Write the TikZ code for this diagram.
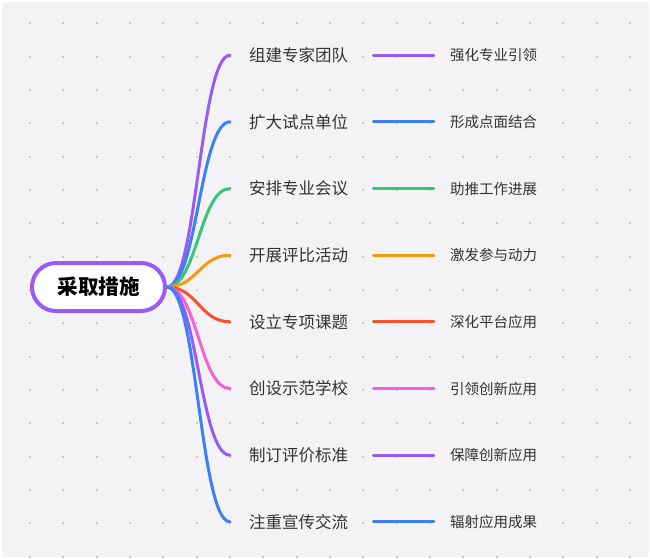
\documentclass[tikz,border=0pt]{standalone}
\usepackage{fontspec}
\newfontfamily\cjk{Noto Sans CJK SC}
\definecolor{CanvasGray}{RGB}{243, 243, 245}
\definecolor{GridDot}{RGB}{200, 200, 205}
\definecolor{TextGray}{RGB}{51, 51, 51}
\definecolor{Violet}{RGB}{152, 92, 245}
\definecolor{Azure}{RGB}{60, 128, 246}
\definecolor{Mint}{RGB}{56, 196, 124}
\definecolor{Amber}{RGB}{248, 152, 12}
\definecolor{Vermilion}{RGB}{246, 82, 46}
\definecolor{Orchid}{RGB}{244, 96, 214}
\usetikzlibrary{positioning}

\begin{document}
\begin{tikzpicture}[x=1pt, y=-1pt,
    every node/.style={font=\cjk, text=TextGray, inner sep=1pt},
    hub/.style={draw=Violet, line width=4pt, fill=white, rounded corners=24pt,
                minimum width=133pt, minimum height=48pt, text=black,
                font=\cjk\bfseries\fontsize{20.5}{24}\selectfont},
    topic/.style={anchor=west, fill=CanvasGray, font=\cjk\fontsize{16.5}{18}\selectfont},
    result/.style={anchor=west, fill=CanvasGray, font=\cjk\fontsize{14.5}{16}\selectfont},
    branch/.style={line width=3pt, line cap=round},
    link/.style={line width=2.8pt, line cap=round, shorten <=24pt, shorten >=15pt}
]
% canvas and dot grid
\useasboundingbox (0,0) rectangle (650,558);
\fill[CanvasGray] (0,0) rectangle (650,558);
\draw[white, line width=1.5pt] (0.75,0.75) rectangle (649.25,557.25);
\foreach \i in {0,...,18}
  \foreach \j in {0,...,16}
    \fill[GridDot] ({29+33.333*\i},{22.333+33.333*\j}) rectangle ++(2,2);

\node[hub] (root) at (98.5,287) {采取措施};

\node[topic] (t1) at (248,55.2) {组建专家团队};
\node[topic] (t2) at (248,121.8) {扩大试点单位};
\node[topic] (t3) at (248,188.5) {安排专业会议};
\node[topic] (t4) at (248,255.2) {开展评比活动};
\node[topic] (t5) at (248,321.8) {设立专项课题};
\node[topic] (t6) at (248,388.5) {创设示范学校};
\node[topic] (t7) at (248,455.2) {制订评价标准};
\node[topic] (t8) at (248,521.8) {注重宣传交流};

\node[result] (r1) at (449,55.2) {强化专业引领};
\node[result] (r2) at (449,121.8) {形成点面结合};
\node[result] (r3) at (449,188.5) {助推工作进展};
\node[result] (r4) at (449,255.2) {激发参与动力};
\node[result] (r5) at (449,321.8) {深化平台应用};
\node[result] (r6) at (449,388.5) {引领创新应用};
\node[result] (r7) at (449,455.2) {保障创新应用};
\node[result] (r8) at (449,521.8) {辐射应用成果};

\draw[branch, Violet] (root.east) .. controls +(30,0) and +(-30,0) .. ([xshift=-18pt]t1.west);
\draw[branch, Azure] (root.east) .. controls +(30,0) and +(-30,0) .. ([xshift=-18pt]t2.west);
\draw[branch, Mint] (root.east) .. controls +(30,0) and +(-30,0) .. ([xshift=-18pt]t3.west);
\draw[branch, Amber] (root.east) .. controls +(30,0) and +(-30,0) .. ([xshift=-18pt]t4.west);
\draw[branch, Vermilion] (root.east) .. controls +(30,0) and +(-30,0) .. ([xshift=-18pt]t5.west);
\draw[branch, Orchid] (root.east) .. controls +(30,0) and +(-30,0) .. ([xshift=-18pt]t6.west);
\draw[branch, Violet] (root.east) .. controls +(30,0) and +(-30,0) .. ([xshift=-18pt]t7.west);
\draw[branch, Azure] (root.east) .. controls +(30,0) and +(-30,0) .. ([xshift=-18pt]t8.west);

\draw[link, Violet] (t1) -- (r1);
\draw[link, Azure] (t2) -- (r2);
\draw[link, Mint] (t3) -- (r3);
\draw[link, Amber] (t4) -- (r4);
\draw[link, Vermilion] (t5) -- (r5);
\draw[link, Orchid] (t6) -- (r6);
\draw[link, Violet] (t7) -- (r7);
\draw[link, Azure] (t8) -- (r8);
\end{tikzpicture}
\end{document}
